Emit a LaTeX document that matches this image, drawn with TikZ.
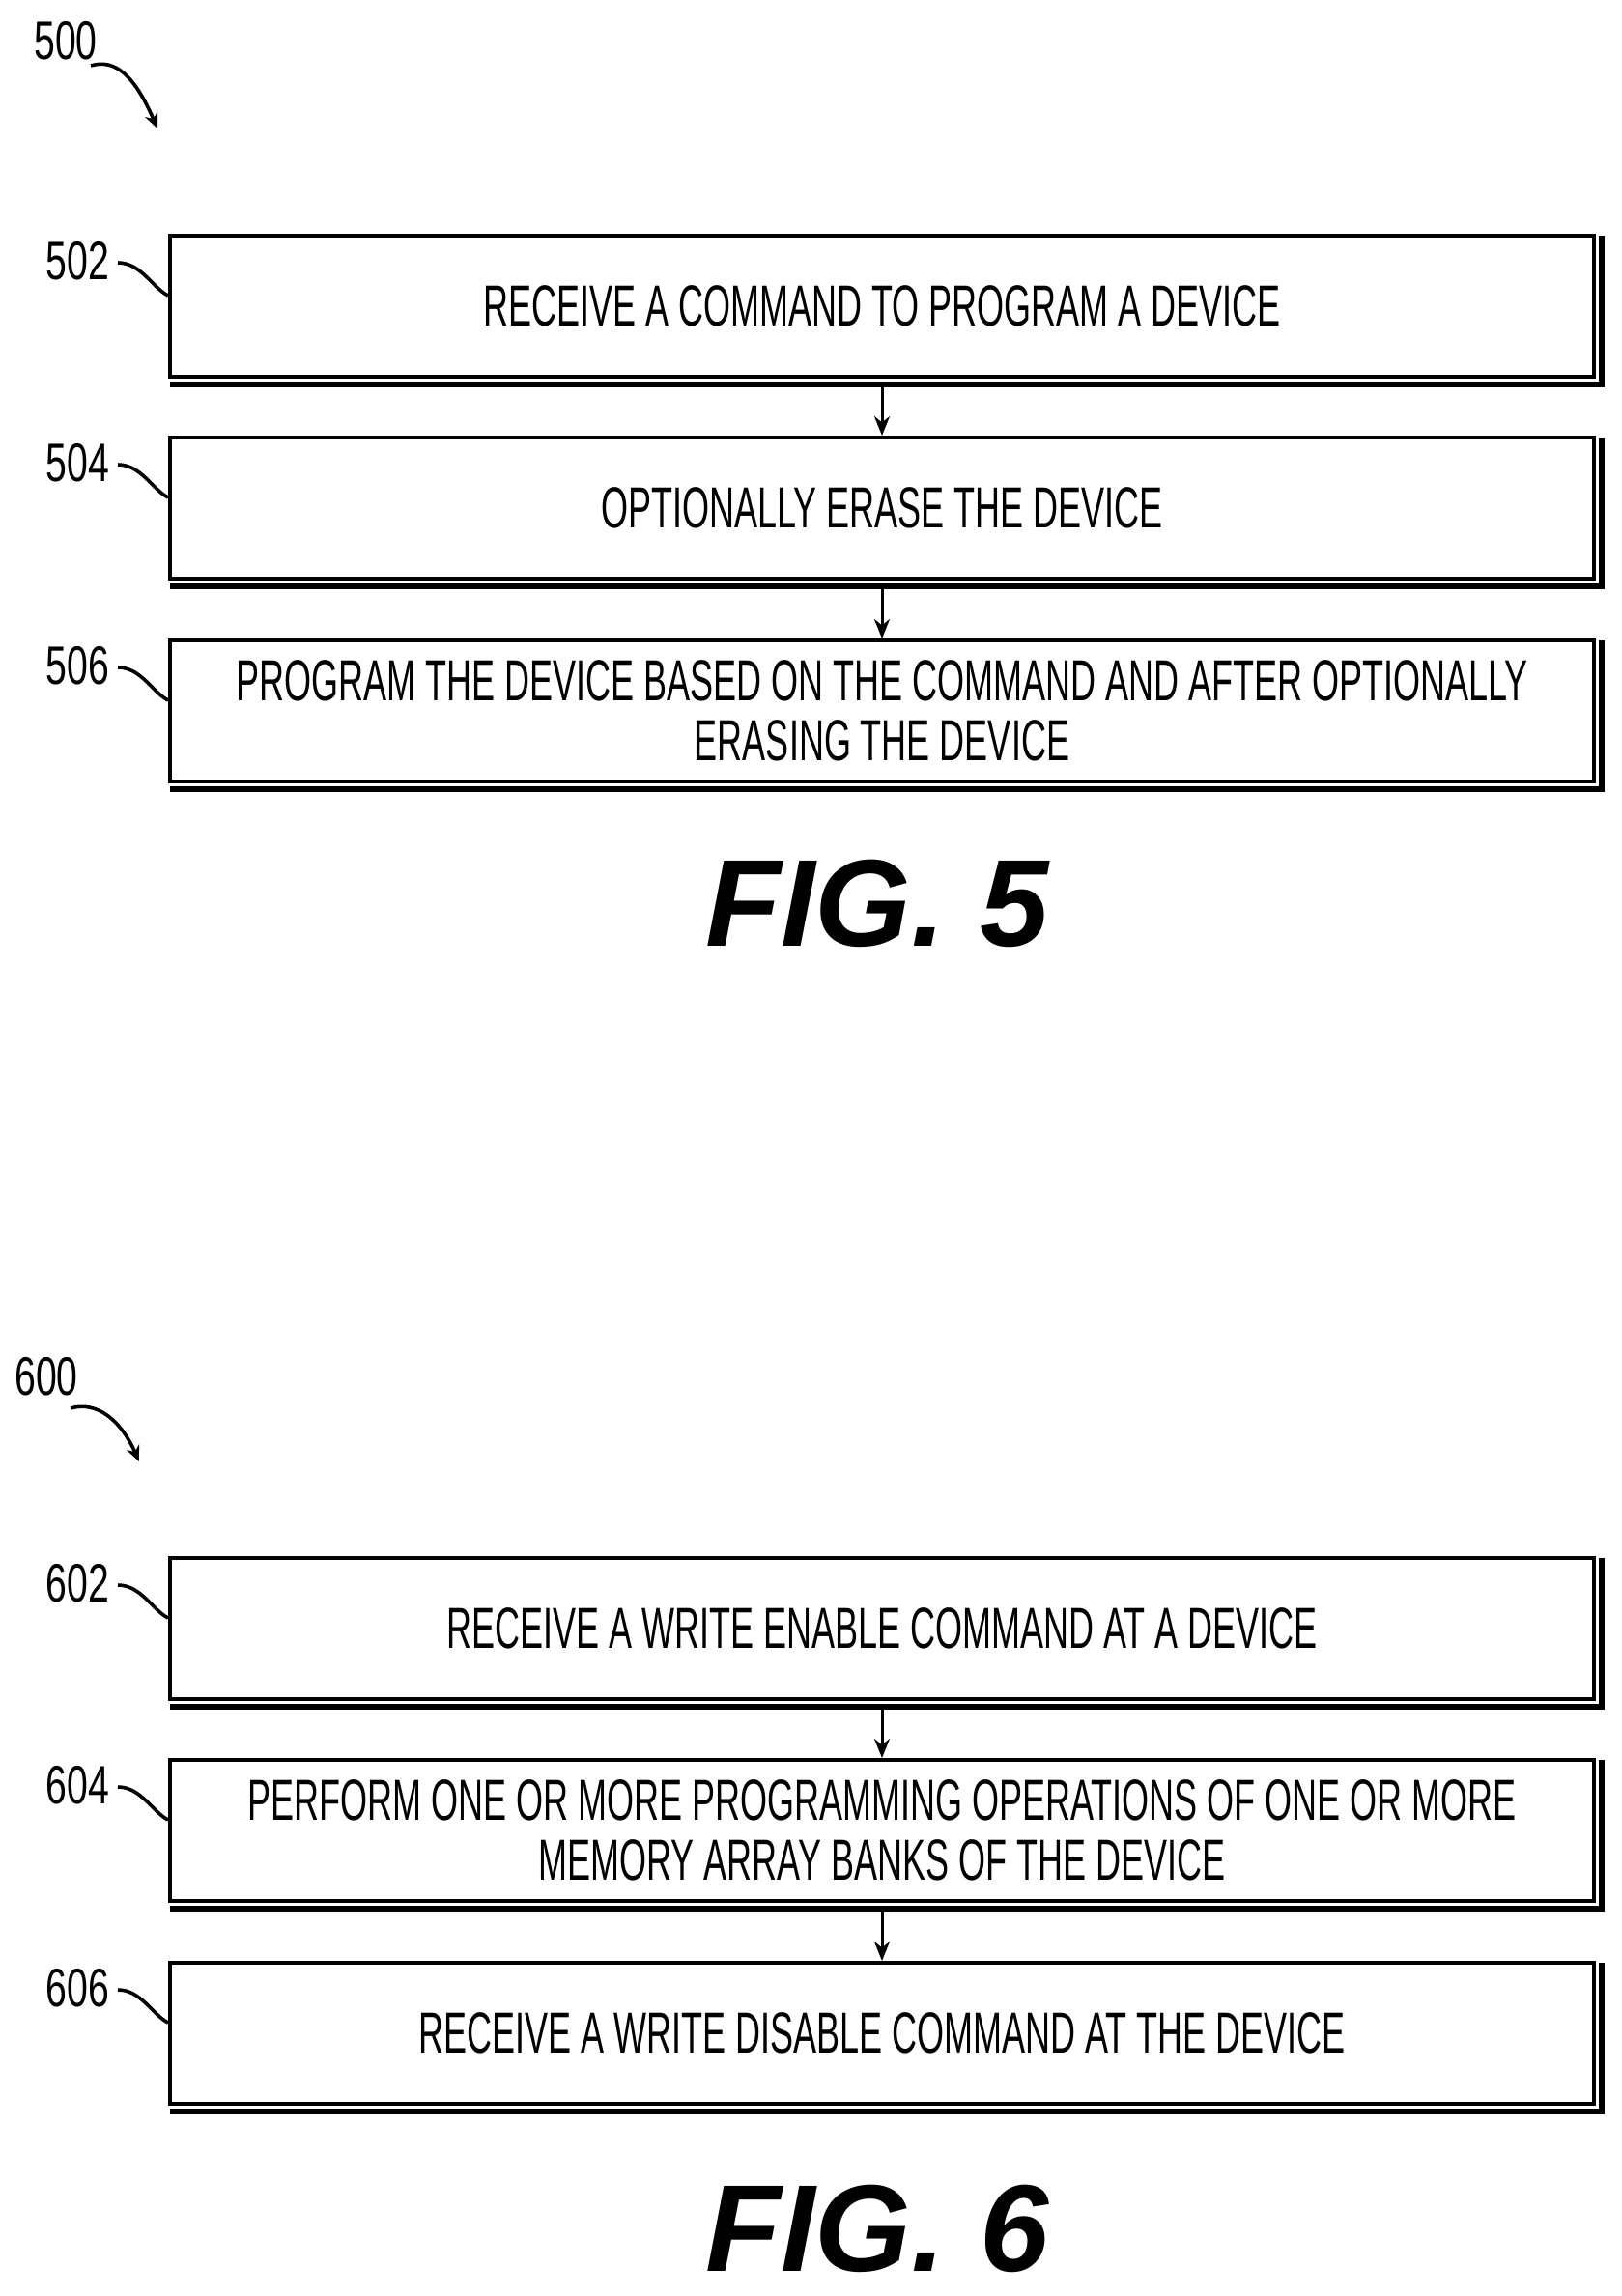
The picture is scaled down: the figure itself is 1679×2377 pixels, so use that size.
\documentclass[tikz,border=0pt]{standalone}
\usepackage{fontspec}
\setmainfont{Liberation Sans}
\newfontfamily\nar[FakeStretch=0.6]{Liberation Sans}
\newfontfamily\lab[FakeStretch=0.7]{Liberation Sans}
\begin{document}
\begin{tikzpicture}[x=0.5pt,y=-0.5pt,
  box/.style={draw,line width=2pt,minimum width=737pt,minimum height=73pt,anchor=north west,inner sep=0pt,align=center,font=\nar\fontsize{30}{31}\selectfont},
  arr/.style={-{Stealth[length=10pt,width=8pt]},line width=1.5pt},
  sq/.style={line width=1.8pt},
  lbl/.style={font=\lab\fontsize{28}{30}\selectfont},
  fig/.style={font=\bfseries\itshape\fontsize{64}{64}\selectfont}]
\usetikzlibrary{arrows.meta}
\useasboundingbox (0,0) rectangle (1679,2377);
\foreach \n/\y/\t in {b502/242/{RECEIVE A COMMAND TO PROGRAM A DEVICE},
  b504/451/{OPTIONALLY ERASE THE DEVICE},
  b506/661/{PROGRAM THE DEVICE BASED ON THE COMMAND AND AFTER OPTIONALLY\\ERASING THE DEVICE},
  b602/1611/{RECEIVE A WRITE ENABLE COMMAND AT A DEVICE},
  b604/1820/{PERFORM ONE OR MORE PROGRAMMING OPERATIONS OF ONE OR MORE\\MEMORY ARRAY BANKS OF THE DEVICE},
  b606/2030/{RECEIVE A WRITE DISABLE COMMAND AT THE DEVICE}}{
  \node[box] (\n) at (174,\y) {\t};
  \draw[line width=3pt] ([xshift=1pt,yshift=-3pt]\n.south west) -- ([xshift=3pt,yshift=-3pt]\n.south east) -- ([xshift=3pt,yshift=-1pt]\n.north east);
}
\draw[arr] ([yshift=-3pt]b502.south) -- (b504.north);
\draw[arr] ([yshift=-3pt]b504.south) -- (b506.north);
\draw[arr] ([yshift=-3pt]b602.south) -- (b604.north);
\draw[arr] ([yshift=-3pt]b604.south) -- (b606.north);
\foreach \n/\l in {b502/502,b504/504,b506/506,b602/602,b604/604,b606/606}{
  \node[lbl,anchor=east] (l\l) at ([xshift=-27pt,yshift=-14pt]\n.north west) {\l};
  \draw[sq] ([xshift=1pt,yshift=-1pt]l\l.east) .. controls +(12pt,0pt) and +(-8pt,4pt) .. ([yshift=-32pt]\n.north west);
}
\node[lbl] (l500) at (68,42) {500};
\coordinate (e500) at (163,133);
\draw[sq,-{Stealth[length=8pt,width=7pt]}] (94,68) .. controls (120,60) and (140,80) .. (e500);
\node[lbl] (l600) at (48,1425) {600};
\coordinate (e600) at (144,1513);
\draw[sq,-{Stealth[length=8pt,width=7pt]}] (73,1458) .. controls (100,1450) and (125,1470) .. (e600);
\node[fig] (f5) at (908,935) {FIG. 5};
\node[fig] (f6) at (908,2307) {FIG. 6};
\end{tikzpicture}
\end{document}
